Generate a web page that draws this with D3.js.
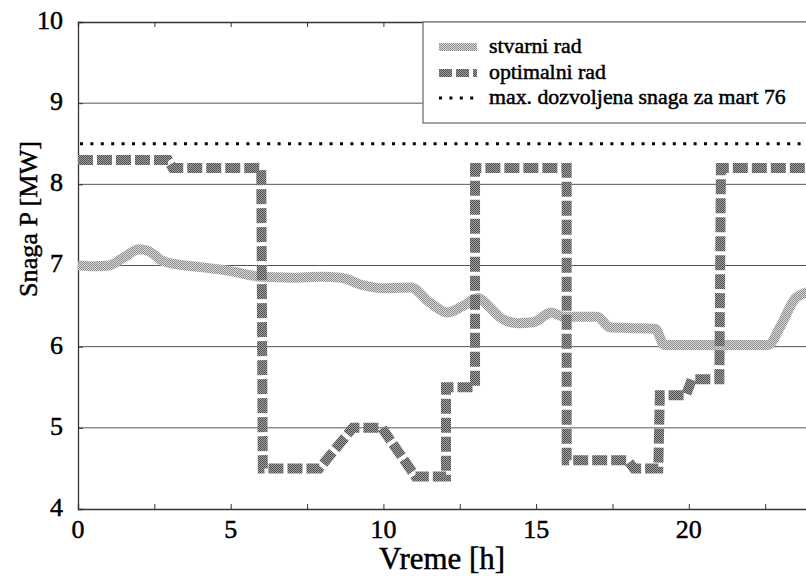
<!DOCTYPE html>
<html>
<head>
<meta charset="utf-8">
<script src="https://cdn.jsdelivr.net/npm/d3@7"></script>
<style>
  body { margin: 0; background: #fff; }
  svg { display: block; }
</style>
</head>
<body>
<svg id="chart" width="806" height="578"></svg>
<script>
// measured: actual operation (stvarni rad), hours vs MW
const actualHours = [0, 0.5, 1.0, 1.5, 2.0, 2.3, 2.8, 3.5, 4.0, 5.0, 6.0, 7.0, 8.0, 8.6, 9.3, 10.0, 10.9, 11.5, 12.1, 12.6, 13.1, 13.5, 13.9, 14.4, 14.9, 15.5, 15.9, 17.0, 17.4, 18.0, 18.9, 19.2, 20.0, 22.6, 23.0, 23.5, 24.0];
const actualPower = [7.0, 6.99, 7.0, 7.1, 7.2, 7.18, 7.05, 7.0, 6.98, 6.93, 6.86, 6.85, 6.86, 6.85, 6.76, 6.72, 6.73, 6.55, 6.42, 6.5, 6.6, 6.48, 6.34, 6.29, 6.3, 6.42, 6.37, 6.37, 6.24, 6.23, 6.22, 6.02, 6.02, 6.02, 6.25, 6.6, 6.68];

// optimal operation (optimalni rad)
const optimalHours = [0, 2.95, 3.1, 6.0, 6.05, 7.9, 9.0, 9.95, 11.05, 12.05, 12.05, 13.0, 13.0, 16.0, 16.0, 18.0, 18.2, 19.0, 19.05, 19.9, 20.1, 21.0, 21.05, 24];
const optimalPower = [8.3, 8.3, 8.2, 8.2, 4.5, 4.5, 5.0, 5.0, 4.4, 4.4, 5.5, 5.5, 8.2, 8.2, 4.6, 4.6, 4.5, 4.5, 5.4, 5.4, 5.6, 5.6, 8.2, 8.2];

const maxPower = 8.5;

const xTicks = [0, 5, 10, 15, 20];
const xMinorTicks = [0, 2.5, 5, 7.5, 10, 12.5, 15, 17.5, 20, 22.5];
const yTicks = [4, 5, 6, 7, 8, 9, 10];

const legendLabels = ['stvarni rad', 'optimalni rad', 'max. dozvoljena snaga za mart 76'];

const FONT = "'Liberation Serif', monospace";

const svg = d3.select('#chart');
const plotLeft = 78, plotRight = 811, plotTop = 22, plotBottom = 509;

const x = d3.scaleLinear().domain([0, 24]).range([plotLeft, plotRight]);
const y = d3.scaleLinear().domain([4, 10]).range([plotBottom, plotTop]);

// halftone textures
const defs = svg.append('defs');
function halftone(id, light, dark) {
  const p = defs.append('pattern')
    .attr('id', id)
    .attr('patternUnits', 'userSpaceOnUse')
    .attr('width', 2).attr('height', 2);
  p.append('rect').attr('width', 2).attr('height', 2).attr('fill', light);
  p.append('rect').attr('width', 1).attr('height', 1).attr('fill', dark);
  p.append('rect').attr('x', 1).attr('y', 1).attr('width', 1).attr('height', 1).attr('fill', dark);
}
halftone('texActual', '#d8d8d8', '#8e8e8e');
halftone('texOptimal', '#a0a0a0', '#505050');

defs.append('clipPath').attr('id', 'plotClip')
  .append('rect').attr('x', plotLeft).attr('y', plotTop - 2)
  .attr('width', plotRight - plotLeft).attr('height', plotBottom - plotTop + 4);

// grid lines
svg.append('g')
  .selectAll('line')
  .data(yTicks.filter(v => v > 4 && v < 10))
  .enter()
  .append('line')
  .attr('x1', plotLeft).attr('x2', plotRight)
  .attr('y1', v => y(v)).attr('y2', v => y(v))
  .attr('stroke', '#555').attr('stroke-width', 1);

// axes
const bottomAxis = svg.append('g')
  .attr('transform', `translate(0,${plotBottom})`)
  .call(d3.axisBottom(x).tickValues(xMinorTicks).tickSize(-5).tickFormat(''));
const topAxis = svg.append('g')
  .attr('transform', `translate(0,${plotTop})`)
  .call(d3.axisTop(x).tickValues(xMinorTicks).tickSize(-5).tickFormat(''));
const leftAxis = svg.append('g')
  .attr('transform', `translate(${plotLeft},0)`)
  .call(d3.axisLeft(y).tickValues(yTicks).tickSize(-5).tickFormat(''));
[bottomAxis, topAxis, leftAxis].forEach(a => {
  a.select('.domain').attr('stroke', '#333').attr('stroke-width', 1.3);
  a.selectAll('.tick line').attr('stroke', '#333');
});

function label(sel, size) {
  return sel
    .attr('font-family', FONT)
    .attr('font-size', size)
    .attr('fill', '#000')
    .attr('stroke', '#000')
    .attr('stroke-width', 0.5);
}

// scale a text's font so it spans the width measured on the reference
function fitWidth(sel, target) {
  const w = sel.node().getComputedTextLength();
  const size = +sel.attr('font-size');
  if (w > 0) sel.attr('font-size', size * target / w);
  return +sel.attr('font-size');
}

// tick labels
svg.append('g')
  .selectAll('text')
  .data(xTicks)
  .enter()
  .append('text')
  .attr('x', d => x(d))
  .attr('y', 532)
  .attr('text-anchor', 'middle')
  .attr('dominant-baseline', 'middle')
  .call(label, 26)
  .text(d => d);

svg.append('g')
  .selectAll('text')
  .data(yTicks)
  .enter()
  .append('text')
  .attr('x', 63)
  .attr('y', d => y(d) + 1)
  .attr('text-anchor', 'end')
  .attr('dominant-baseline', 'middle')
  .call(label, 26)
  .text(d => d);

const xTitle = svg.append('text')
  .attr('x', 442)
  .attr('y', 562)
  .attr('text-anchor', 'middle')
  .attr('dominant-baseline', 'middle')
  .call(label, 29)
  .text('Vreme [h]');
fitWidth(xTitle, 126);

const yTitle = svg.append('text')
  .attr('transform', 'translate(31,219) rotate(-90)')
  .attr('text-anchor', 'middle')
  .attr('dominant-baseline', 'middle')
  .call(label, 27)
  .text('Snaga P [MW]');
fitWidth(yTitle, 156);

// series
const plot = svg.append('g').attr('clip-path', 'url(#plotClip)');

plot.append('line')
  .attr('x1', plotLeft + 2).attr('x2', plotRight)
  .attr('y1', y(maxPower)).attr('y2', y(maxPower))
  .attr('stroke', '#000').attr('stroke-width', 3)
  .attr('stroke-dasharray', '3,7.4');

const actualLine = d3.line()
  .x(i => x(actualHours[i]))
  .y(i => y(actualPower[i]))
  .curve(d3.curveMonotoneX);

plot.append('path')
  .attr('d', actualLine(d3.range(actualHours.length)))
  .attr('fill', 'none')
  .attr('stroke', 'url(#texActual)')
  .attr('stroke-width', 10);

const optimalLine = d3.line()
  .x(i => x(optimalHours[i]))
  .y(i => y(optimalPower[i]));

plot.append('path')
  .attr('d', optimalLine(d3.range(optimalHours.length)))
  .attr('fill', 'none')
  .attr('stroke', 'url(#texOptimal)')
  .attr('stroke-width', 10)
  .attr('stroke-dasharray', '15,4');

// legend
const legend = svg.append('g');
legend.append('rect')
  .attr('x', 423).attr('y', plotTop)
  .attr('width', 400).attr('height', 101)
  .attr('fill', '#fff')
  .attr('stroke', '#666').attr('stroke-width', 1.2);

const legendRows = [48, 74, 99];
const legendStyles = [
  { stroke: 'url(#texActual)', width: 8, dash: null },
  { stroke: 'url(#texOptimal)', width: 8, dash: '13,4' },
  { stroke: '#000', width: 3, dash: '3,7.4' },
];
legend.selectAll('line')
  .data(legendStyles)
  .enter()
  .append('line')
  .attr('x1', 439).attr('x2', 477)
  .attr('y1', (d, i) => legendRows[i] - 1).attr('y2', (d, i) => legendRows[i] - 1)
  .attr('stroke', d => d.stroke)
  .attr('stroke-width', d => d.width)
  .attr('stroke-dasharray', d => d.dash);

const legendText = legend.selectAll('text')
  .data(legendLabels)
  .enter()
  .append('text')
  .attr('x', 489)
  .attr('y', (d, i) => legendRows[i])
  .attr('dominant-baseline', 'middle')
  .call(label, 21)
  .text(d => d);
const legendSize = fitWidth(legendText.filter((d, i) => i === 2), 297);
legendText.attr('font-size', legendSize);
</script>
</body>
</html>
